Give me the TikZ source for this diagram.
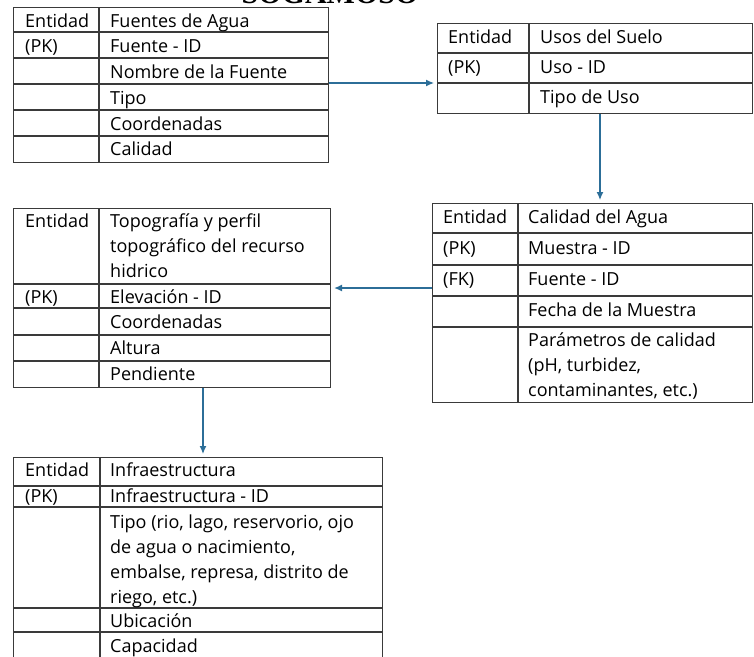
\documentclass[tikz,border=0pt]{standalone}
\usepackage{fontspec}
\setmainfont{Open Sans}
\newfontfamily\titlefont{Liberation Serif}
\usetikzlibrary{arrows.meta,positioning,calc}
\definecolor{grid}{HTML}{3A3A3A}
\definecolor{linkblue}{HTML}{2C6E98}

\begin{document}
\begin{tikzpicture}[x=1pt,y=-1pt,>=Latex,
    tablebox/.style={draw=grid,line width=1.1pt,anchor=north west,inner sep=0pt},
    rule/.style={grid,line width=1.1pt},
    % base of a cell is the baseline of its last line
    cell/.style={anchor=base west,inner sep=0pt,align=left,
                 font=\fontsize{18}{25}\selectfont},
    link/.style={linkblue,line width=1.3pt,shorten >=3pt,
                 -{Latex[length=8pt,width=7pt]}}]
    \useasboundingbox (0,0) rectangle (754,656);
    \clip (0,0) rectangle (754,656);

    % heading, cut off by the top edge
    \node[anchor=base,inner sep=0pt,font=\titlefont\bfseries\fontsize{30}{30}\selectfont]
      (title) at (330,3) {SOGAMOSO};

    % Fuentes de Agua
    \node[tablebox,minimum width=315pt,minimum height=155pt] (fuentes) at (13,7) {};
    \draw[rule] (fuentes.north -| 99,0) -- (fuentes.south -| 99,0);
    \foreach \y in {32,58,84,110,136}
      \draw[rule] (fuentes.west |- 0,\y) -- (fuentes.east |- 0,\y);
    \foreach \b/\lab [count=\i] in {27/Entidad,52/{(PK)}}
      \node[cell] (fuentes-k\i) at (25,\b) {\lab};
    \foreach \b/\lab [count=\i] in {27/{Fuentes de Agua},52/{Fuente - ID},
        78/{Nombre de la Fuente},104/Tipo,130/Coordenadas,155/Calidad}
      \node[cell] (fuentes-a\i) at (110,\b) {\lab};

    % Usos del Suelo
    \node[tablebox,minimum width=315pt,minimum height=90pt] (usos) at (437,23) {};
    \draw[rule] (usos.north -| 529,0) -- (usos.south -| 529,0);
    \foreach \y in {53,83}
      \draw[rule] (usos.west |- 0,\y) -- (usos.east |- 0,\y);
    \foreach \b/\lab [count=\i] in {43/Entidad,73/{(PK)}}
      \node[cell] (usos-k\i) at (448,\b) {\lab};
    \foreach \b/\lab [count=\i] in {43/{Usos del Suelo},73/{Uso - ID},103/{Tipo de Uso}}
      \node[cell] (usos-a\i) at (540,\b) {\lab};

    % Calidad del Agua
    \node[tablebox,minimum width=320pt,minimum height=199pt] (calidad) at (432,203) {};
    \draw[rule] (calidad.north -| 518,0) -- (calidad.south -| 518,0);
    \foreach \y in {233,265,296,327}
      \draw[rule] (calidad.west |- 0,\y) -- (calidad.east |- 0,\y);
    \foreach \b/\lab [count=\i] in {223/Entidad,254/{(PK)},285/{(FK)}}
      \node[cell] (calidad-k\i) at (443,\b) {\lab};
    \foreach \b/\lab [count=\i] in {223/{Calidad del Agua},254/{Muestra - ID},
        285/{Fuente - ID},316/{Fecha de la Muestra},
        396/{Parámetros de calidad\\(pH, turbidez,\\contaminantes, etc.)}}
      \node[cell] (calidad-a\i) at (528,\b) {\lab};

    % Topografía
    \node[tablebox,minimum width=317pt,minimum height=179pt] (topo) at (13,208) {};
    \draw[rule] (topo.north -| 99,0) -- (topo.south -| 99,0);
    \foreach \y in {284,308,335,361}
      \draw[rule] (topo.west |- 0,\y) -- (topo.east |- 0,\y);
    \foreach \b/\lab [count=\i] in {227/Entidad,303/{(PK)}}
      \node[cell] (topo-k\i) at (25,\b) {\lab};
    \foreach \b/\lab [count=\i] in {
        277/{Topografía y perfil\\topográfico del recurso\\hidrico},
        303/{Elevación - ID},328/Coordenadas,354/Altura,380/Pendiente}
      \node[cell] (topo-a\i) at (110,\b) {\lab};

    % Infraestructura
    \node[tablebox,minimum width=369pt,minimum height=230pt] (infra) at (13,457) {};
    \draw[rule] (infra.north -| 100,0) -- (infra.south -| 100,0);
    \foreach \y in {486,507,608,632}
      \draw[rule] (infra.west |- 0,\y) -- (infra.east |- 0,\y);
    \foreach \b/\lab [count=\i] in {476/Entidad,502/{(PK)}}
      \node[cell] (infra-k\i) at (25,\b) {\lab};
    \foreach \b/\lab [count=\i] in {476/Infraestructura,502/{Infraestructura - ID},
        603/{Tipo (rio, lago, reservorio, ojo\\de agua o nacimiento,\\embalse, represa, distrito de\\riego, etc.)},
        627/Ubicación,652/Capacidad}
      \node[cell] (infra-a\i) at (110,\b) {\lab};

    % relations
    \draw[link] (fuentes.east |- 0,83) -- (usos.west |- 0,83);
    \draw[link] (usos.south -| 600,0) -- (calidad.north -| 600,0);
    \draw[link] (calidad.west |- 0,288) -- (topo.east |- 0,288);
    \draw[link] (topo.south -| 203,0) -- (infra.north -| 203,0);
\end{tikzpicture}
\end{document}
